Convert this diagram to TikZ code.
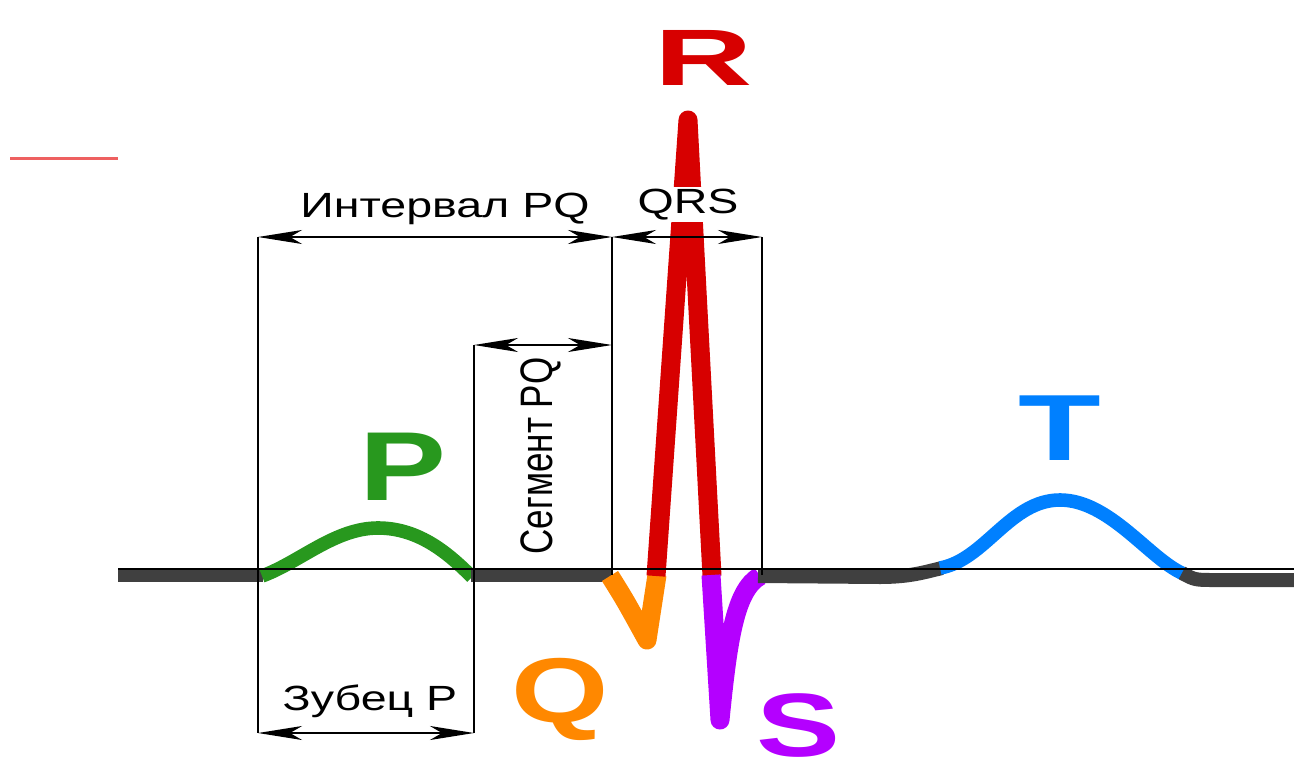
\documentclass[tikz,border=0pt]{standalone}
\usepackage{fontspec}
\setmainfont{Liberation Sans}
\usepackage{graphicx}
\usetikzlibrary{arrows.meta}

\definecolor{isogray}{RGB}{64,64,64}
\definecolor{pgreen}{RGB}{40,152,30}
\definecolor{qorange}{RGB}{255,136,0}
\definecolor{rred}{RGB}{215,0,0}
\definecolor{spurple}{RGB}{180,0,255}
\definecolor{tblue}{RGB}{0,128,255}
\definecolor{markred}{RGB}{238,96,96}

\newcommand{\wide}[2]{\scalebox{#1}[1]{#2}}

\begin{document}
\begin{tikzpicture}[x=0.5pt, y=-0.5pt,
    wave/.style={line width=6.8pt, line join=round},
    qrs/.style={line width=9.5pt, line join=round},
    dim/.style={line width=1.1pt, black},
    dimarrow/.style={dim, {Stealth[length=22pt,width=7pt,inset=6pt]}-{Stealth[length=22pt,width=7pt,inset=6pt]}},
    lbl/.style={anchor=base, inner sep=1pt, font=\fontsize{17.5}{20}\selectfont},
    big/.style={anchor=base, inner sep=0pt}]
    \useasboundingbox (0,0) rectangle (1294,771);

    \draw[line width=1.5pt, markred] (10,158) -- (118,158);

    % waveform
    \draw[wave, isogray, line width=7pt] (118,575) -- (263,575);
    \draw[wave, pgreen] (262,576) .. controls (300,562) and (335,528) .. (378,528)
        .. controls (420,528) and (450,555) .. (472,577);
    \draw[wave, isogray, line width=7pt] (471,575) -- (612,575);
    \draw[qrs, qorange] (610,576) .. controls (625,600) .. (647,640) -- (657,575);
    \draw[qrs, rred] (656,576) -- (688,120) -- (712,576);
    \draw[qrs, spurple] (711,575) -- (720,720) .. controls (728,640) and (735,590) .. (760,576);
    \draw[wave, isogray, line width=7pt] (758,576) -- (880,577)
        .. controls (910,577) and (925,572) .. (942,568);
    \draw[wave, tblue] (940,568) .. controls (985,560) and (1010,500) .. (1060,500)
        .. controls (1110,500) and (1150,560) .. (1184,574);
    \draw[wave, isogray, line width=7pt] (1182,573) .. controls (1195,580) .. (1215,580) -- (1294,580);

    % isoline
    \draw[dim] (118,569) -- (1294,569);

    % boundaries
    \coordinate (pstart) at (258,237);
    \coordinate (pstartlow) at (258,733);
    \coordinate (pendtop) at (474,345);
    \coordinate (pendlow) at (474,733);
    \coordinate (qtop) at (612,237);
    \coordinate (qmid) at (612,345);
    \coordinate (qbase) at (612,575);
    \coordinate (stop) at (762,237);
    \coordinate (sbase) at (762,575);

    \draw[dim] (pstart) -- (pstartlow);
    \draw[dim] (pendtop) -- (pendlow);
    \draw[dim] (qtop) -- (qbase);
    \draw[dim] (stop) -- (sbase);

    \draw[dimarrow] (pstart) -- (qtop);
    \draw[dimarrow] (qtop) -- (stop);
    \draw[dimarrow] (pendtop) -- (qmid);
    \draw[dimarrow] (pstartlow) -- (pendlow);

    % labels
    \node[lbl] (intpq) at (445,217) {\wide{1.33}{Интервал PQ}};
    \node[lbl, fill=white] (qrslbl) at (688,213) {\wide{1.33}{QRS}};
    \node[inner sep=0pt, font=\fontsize{17.5}{20}\selectfont] (segpq) at (541,456)
        {\wide{1.3}{\rotatebox{90}{Сегмент PQ}}};
    \node[lbl] (zubp) at (370,710) {\wide{1.33}{Зубец P}};

    \node[big, rred, font=\fontsize{40}{44}\bfseries] (rlbl) at (704,85) {\wide{1.7}{R}};
    \node[big, pgreen, font=\fontsize{49}{52}\bfseries] (plbl) at (403,500) {\wide{1.33}{P}};
    \node[big, tblue, font=\fontsize{47}{50}\bfseries] (tlbl) at (1060,460) {\wide{1.44}{T}};
    \node[big, qorange, font=\fontsize{46}{50}\bfseries] (qlbl) at (560,722) {\wide{1.36}{Q}};
    \node[big, spurple, font=\fontsize{45}{48}\bfseries] (slbl) at (799,756) {\wide{1.4}{S}};
\end{tikzpicture}
\end{document}
